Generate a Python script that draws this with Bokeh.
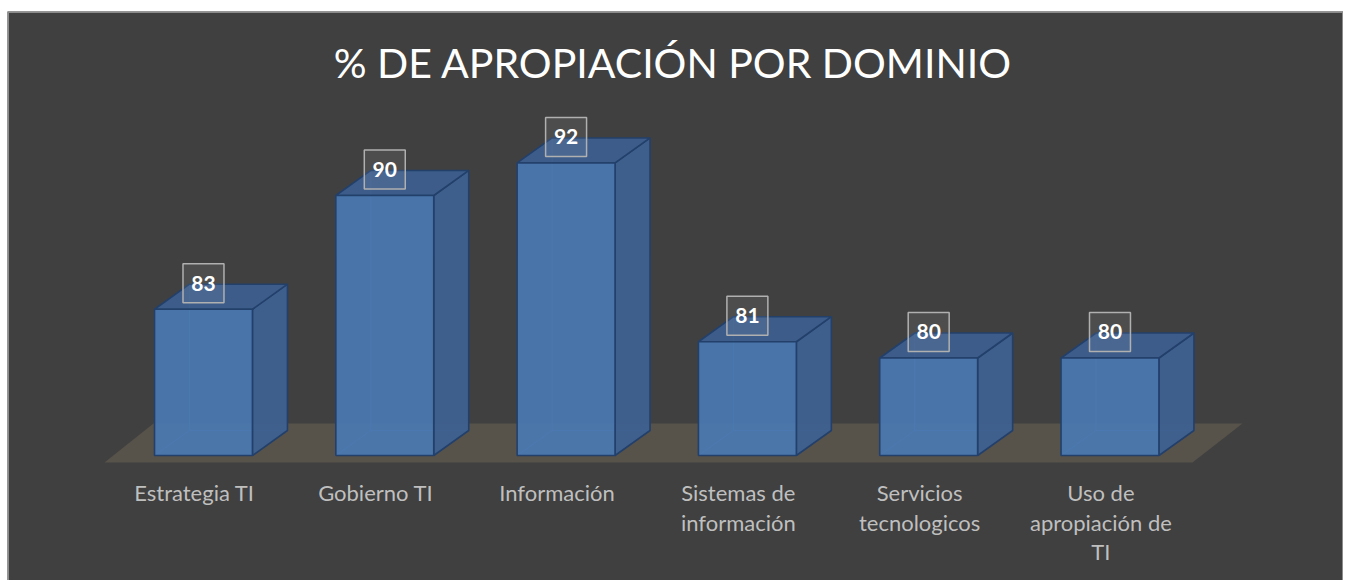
from bokeh.plotting import figure
from bokeh.models import ColumnDataSource, Range1d
from bokeh.core.properties import value
from bokeh.embed import file_html
from bokeh.resources import INLINE

# ---- data ----
categories = ["Estrategia TI", "Gobierno TI", "Información",
              "Sistemas de\ninformación", "Servicios\ntecnologicos",
              "Uso de\napropiación de\nTI"]
values = [83, 90, 92, 81, 80, 80]
title_text = "% DE APROPIACIÓN POR DOMINIO"

# ---- geometry (data units) ----
BASE = 74.0
HW = 0.27        # half width of front face (category units)
DX = 0.193       # depth offset x
DY = 1.54        # depth offset y (value units)

X0, X1, Y0, Y1 = -1.081, 6.288, 66.31, 101.32
W, H = 1343, 580
p = figure(width=W, height=H, output_backend="svg", toolbar_location=None,
           x_range=Range1d(X0, X1), y_range=Range1d(Y0, Y1),
           x_axis_type=None, y_axis_type=None,
           min_border_left=7, min_border_right=0, min_border_top=11, min_border_bottom=0)
p.grid.visible = False
p.background_fill_color = "#404040"
p.border_fill_color = "#ffffff"
p.outline_line_color = None

# chart border (left, top, right)
p.line([X0, X0, X1, X1], [Y0, Y1, Y1, Y0], line_color="#8c8c8c", line_width=3)

# floor
p.patch([-0.546, 5.455, 5.731, -0.276], [73.57, 73.57, 75.97, 75.97],
        fill_color="#57524a", line_color=None)

xs = list(range(len(values)))
front_x, front_y, side_x, side_y, top_x, top_y = [], [], [], [], [], []
hid_x, hid_y = [], []
for i, v in zip(xs, values):
    l, r = i - HW, i + HW
    front_x.append([l, r, r, l]); front_y.append([BASE, BASE, v, v])
    side_x.append([r, r + DX, r + DX, r]); side_y.append([BASE, BASE + DY, v + DY, v])
    top_x.append([l, r, r + DX, l + DX]); top_y.append([v, v, v + DY, v + DY])
    # hidden edges
    hid_x += [[l + DX, l + DX], [l + DX, r + DX], [l, l + DX]]
    hid_y += [[BASE + DY, v + DY], [BASE + DY, BASE + DY], [BASE, BASE + DY]]

p.multi_line(hid_x, hid_y, line_color="#5b8ccb", line_width=1, line_alpha=0.6)
edge = "#23406b"
p.patches(side_x, side_y, fill_color="#3e6090", fill_alpha=0.95, line_color=edge, line_width=1.6)
p.patches(top_x, top_y, fill_color="#3d5e8d", fill_alpha=0.95, line_color=edge, line_width=1.6)
p.patches(front_x, front_y, fill_color="#4a78b2", fill_alpha=0.93, line_color=edge, line_width=1.6)

# data labels
lab_y = [v + 1.6 for v in values]
src = ColumnDataSource(dict(x=xs, y=lab_y, t=[str(v) for v in values]))
p.rect(x="x", y="y", width=0.226, height=2.4, source=src,
       fill_color="#ffffff", fill_alpha=0.07, line_color="#b0b0b0", line_width=1.5)
p.text(x="x", y="y", text="t", source=src, text_font=value("Lato"),
       text_font_style="bold", text_font_size="21px", text_color="#ffffff",
       text_align="center", text_baseline="middle")

# category labels
cat_src = ColumnDataSource(dict(x=[i - 0.05 for i in xs], y=[BASE - 1.45] * len(xs), t=categories))
p.text(x="x", y="y", text="t", source=cat_src, text_font=value("Lato"),
       text_font_size="22px", text_color="#bfbfbf", text_align="center",
       text_baseline="top", text_line_height=1.1)

# title
p.text(x=[2.59], y=[98.2], text=[title_text], text_font=value("Lato"),
       text_font_size="41px", text_color="#ffffff", text_align="center",
       text_baseline="middle")

open("out.html", "w").write(file_html(p, INLINE))
